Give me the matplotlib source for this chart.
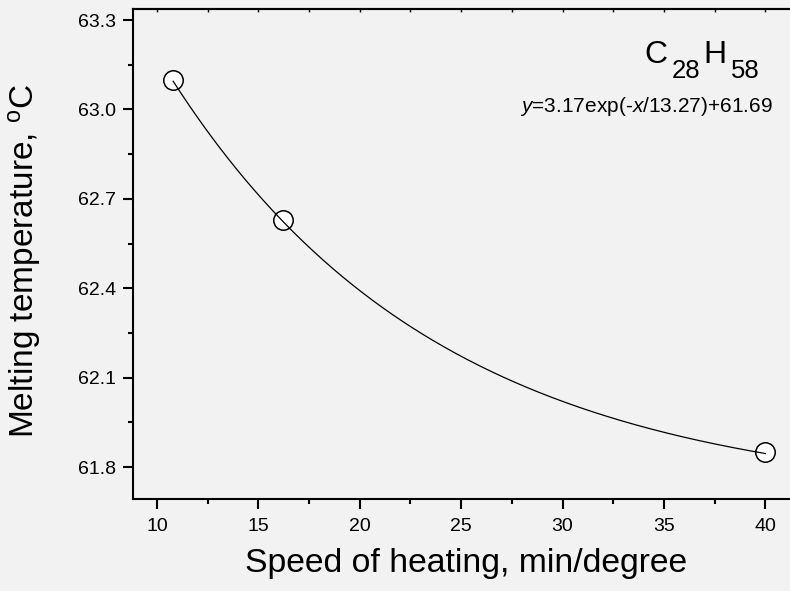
import numpy as np
import matplotlib
matplotlib.use("Agg")
import matplotlib.pyplot as plt
from matplotlib.ticker import MultipleLocator

plt.rcParams['font.family'] = ['Liberation Sans', 'DejaVu Sans']
plt.rcParams['mathtext.fontset'] = 'custom'
plt.rcParams['mathtext.rm'] = 'Liberation Sans'
plt.rcParams['mathtext.it'] = 'Liberation Sans:italic'

# measured points
speed = [10.8, 16.2, 40.0]
melt_temp = [63.10, 62.63, 61.85]

# exponential fit parameters (as printed on the chart)
fit_A = 3.17
fit_t = 13.27
fit_y0 = 61.69

bg = '#f2f2f2'
W, H = 790, 591

fig = plt.figure(figsize=(7.9, 5.91), dpi=100, facecolor=bg)
ax = fig.add_axes([133 / W, (H - 499) / H, (799 - 133) / W, 490 / H], facecolor=bg)

xs = np.linspace(min(speed), max(speed), 300)
ax.plot(xs, fit_A * np.exp(-xs / fit_t) + fit_y0, color='black', lw=0.9, zorder=3)
ax.plot(speed, melt_temp, 'o', ms=14, mfc='white', mec='black', mew=1.1, zorder=2)

ax.set_xlim(8.82, 41.66)
ax.set_ylim(61.693, 63.337)
ax.xaxis.set_major_locator(MultipleLocator(5))
ax.xaxis.set_minor_locator(MultipleLocator(2.5))
ax.yaxis.set_major_locator(MultipleLocator(0.3))
ax.yaxis.set_minor_locator(MultipleLocator(0.15))
ax.yaxis.set_major_formatter(matplotlib.ticker.FormatStrFormatter('%.1f'))

for s in ['left', 'bottom', 'top']:
    ax.spines[s].set_linewidth(1.5)
ax.spines['right'].set_visible(False)

ax.tick_params(which='major', direction='out', length=7.5, width=1.5, labelsize=14, pad=5)
ax.tick_params(which='minor', direction='out', length=3.5, width=1.5)
ax.tick_params(axis='x', which='major', pad=6)

top = ax.secondary_xaxis('top')
top.xaxis.set_major_locator(MultipleLocator(2.5))
top.tick_params(direction='in', length=2.5, width=1, labeltop=False)
top.spines['top'].set_linewidth(1.5)

ax.set_xlabel('Speed of heating, min/degree', fontsize=24.3)
ax.xaxis.set_label_coords(0.5, -0.10)
ax.set_ylabel('Melting temperature, $^{\\mathregular{o}}$C', fontsize=24)
ax.yaxis.set_label_coords(-0.135, 0.5 - 7 / 490)

# formula label
def ptext(x, y, s, size, **kw):
    fig.text(x / W, 1 - y / H, s, fontsize=size, va='baseline', **kw)

ptext(644, 63, 'C', 23)
ptext(672, 78, '28', 18.5)
ptext(703, 63, 'H', 23)
ptext(731, 78, '58', 18.5)
ptext(773, 112, '$\\mathit{y}$=%.2fexp(-$\\mathit{x}$/%.2f)+%.2f' % (fit_A, fit_t, fit_y0),
      15, ha='right')

fig.savefig('out.png', dpi=100, facecolor=bg)
